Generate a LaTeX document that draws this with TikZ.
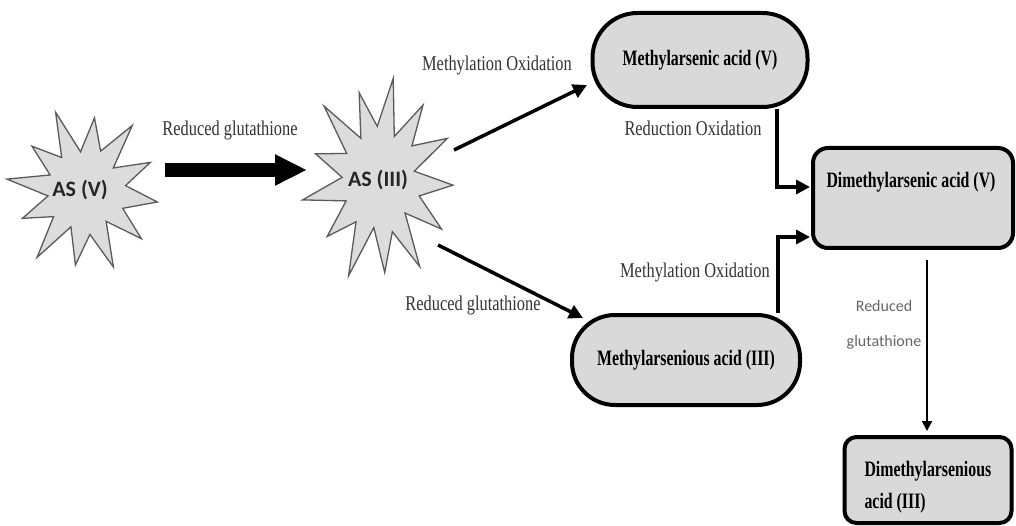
\documentclass[tikz,border=0pt]{standalone}
\usepackage{fontspec}
\setmainfont{Liberation Serif}
\newfontfamily\lblfont[FakeStretch=0.78]{Liberation Serif}
\newfontfamily\boxfont[FakeStretch=0.72]{Liberation Serif}
\newfontfamily\mysans{Carlito}
\usetikzlibrary{arrows.meta}
\definecolor{boxfill}{HTML}{D9D9D9}
\definecolor{starfill}{HTML}{DCDCDC}
\definecolor{stargray}{HTML}{5A5A5A}
\newcommand\mystarpath[6]{% cx cy rx ry n offset
  \draw[starsty] plot[samples at={0,...,#5}, variable=\k]
   ({#1 + (#3)*(1-0.48*mod(\k,2))*(1+0.08*sin(\k*97))*cos(\k*180/(#5+1)*2+#6)},
    {#2 + (#4)*(1-0.48*mod(\k,2))*(1+0.08*sin(\k*97))*sin(\k*180/(#5+1)*2+#6)}) -- cycle;}
\begin{document}
\begin{tikzpicture}[x=1pt,y=-1pt,
  starsty/.style={fill=starfill, draw=stargray, line width=1.3pt, line join=miter},
  astext/.style={font=\mysans\bfseries\fontsize{22}{24}\selectfont, text=black!85},
  box/.style={draw=black, line width=4pt, fill=boxfill, inner sep=0pt},
  boxtxt/.style={font=\boxfont\bfseries\fontsize{22}{24}\selectfont},
  lbl/.style={font=\lblfont\fontsize{21}{22}\selectfont, text=black!80},
  sanslbl/.style={font=\mysans\fontsize{16}{35}\selectfont, text=black!60},
  conn/.style={line width=3.5pt, -{Triangle[length=14pt,width=14pt]}},
  fat/.style={line width=14pt, -{Triangle[length=32pt,width=29pt]}},
  thinarr/.style={line width=2pt, -{Triangle[length=10pt,width=10pt]}}]
\useasboundingbox (0,0) rectangle (1016,526);
\fill[white] (0,0) rectangle (1016,526);

% stars
\mystarpath{85}{191}{73}{79}{23}{8}
\mystarpath{380}{180}{73}{98}{25}{3}
\node[astext] (asv) at (80,190) {AS (V)};
\node[astext] (asiii) at (378,180) {AS (III)};

% boxes
\node[box, rounded corners=45pt, minimum width=215pt, minimum height=94pt, boxtxt] (mav) at (700,60) {Methylarsenic acid (V)};
\node[box, rounded corners=43pt, minimum width=228pt, minimum height=90pt, boxtxt] (mas3) at (686,360) {Methylarsenious acid (III)};
\node[box, rounded corners=15pt, minimum width=200pt, minimum height=100pt] (dav) at (913,198) {};
\node[boxtxt] (davt) at (911,182) {Dimethylarsenic acid (V)};
\node[box, rounded corners=12pt, minimum width=167pt, minimum height=86pt] (das3) at (928,480) {};
\node[boxtxt, anchor=west, align=left, font=\boxfont\bfseries\fontsize{22}{32}\selectfont] (das3t) at (861,487) {Dimethylarsenious\\acid (III)};

% labels
\node[lbl] (l1) at (230,130) {Reduced glutathione};
\node[lbl] (l2) at (497,65) {Methylation Oxidation};
\node[lbl] (l3) at (473,305) {Reduced glutathione};
\node[lbl] (l4) at (693,128) {Reduction Oxidation};
\node[lbl] (l5) at (695,272) {Methylation Oxidation};
\node[sanslbl, align=center] (l6) at (884,325) {Reduced\\glutathione};

% coordinates
\coordinate (f1) at (165,170);
\coordinate (f2) at (307,170);
\coordinate (a1) at (454,150);
\coordinate (a2) at (587,85);
\coordinate (b1) at (438,245);
\coordinate (b2) at (583,318);
\coordinate (k1) at (777,0);
\coordinate (k2) at (0,187);
\coordinate (k3) at (778,0);
\coordinate (k4) at (0,237);
\coordinate (k5) at (927,0);

% connectors
\draw[fat] (f1) -- (f2);
\draw[conn] (a1) -- (a2);
\draw[conn] (b1) -- (b2);
\draw[conn, line join=miter] (mav.south -| k1) |- ([xshift=-1pt]dav.west |- k2);
\draw[conn, line join=miter] (mas3.north -| k3) |- ([xshift=-1pt]dav.west |- k4);
\draw[thinarr, shorten <=10pt, shorten >=4pt] (dav.south -| k5) -- (das3.north -| k5);
\end{tikzpicture}
\end{document}
